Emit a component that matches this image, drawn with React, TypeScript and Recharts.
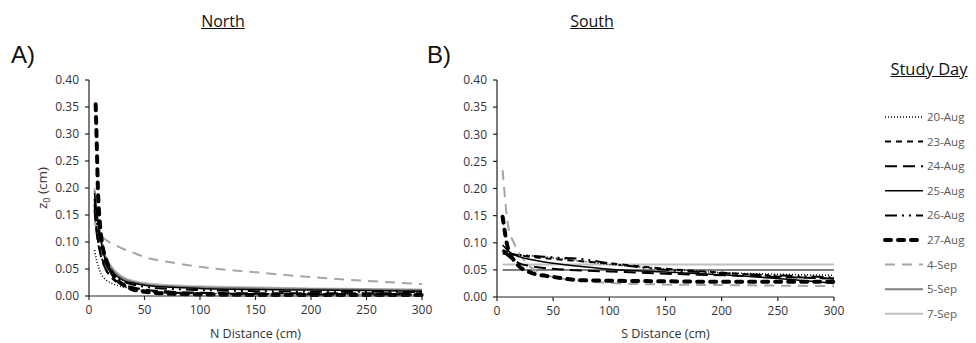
import React from "react";
import { LineChart, Line, XAxis, YAxis } from "recharts";

type Pt = { x: number; y: number };
const pts = (xs: number[], ys: number[]): Pt[] => xs.map((x, i) => ({ x, y: ys[i] }));

const xTicks = [0, 50, 100, 150, 200, 250, 300];
const yTicks = [0, 0.05, 0.1, 0.15, 0.2, 0.25, 0.3, 0.35, 0.4];
const days = ["20-Aug", "23-Aug", "24-Aug", "25-Aug", "26-Aug", "27-Aug", "4-Sep", "5-Sep", "7-Sep"];

// North panel
const nX = [5, 7, 10, 15, 20, 30, 40, 50, 75, 100, 150, 200, 250, 300];
const n20Aug = [0.085, 0.065, 0.045, 0.03, 0.024, 0.017, 0.013, 0.01, 0.007, 0.005, 0.004, 0.004, 0.003, 0.003];
const n23Aug = [0.17, 0.12, 0.085, 0.05, 0.035, 0.02, 0.014, 0.01, 0.006, 0.005, 0.004, 0.003, 0.003, 0.003];
const n24Aug = [0.16, 0.115, 0.08, 0.05, 0.036, 0.022, 0.016, 0.012, 0.008, 0.006, 0.005, 0.005, 0.005, 0.005];
const n25Aug = [0.19, 0.15, 0.11, 0.065, 0.048, 0.03, 0.024, 0.02, 0.016, 0.014, 0.012, 0.011, 0.01, 0.009];
const n26Aug = [0.18, 0.14, 0.1, 0.06, 0.044, 0.028, 0.021, 0.017, 0.013, 0.011, 0.009, 0.008, 0.008, 0.007];
const n27X = [6, 7, 8, 10, 12, 15, 20, 25, 30, 40, 50, 75, 100, 150, 200, 250, 300];
const n27Aug = [0.355, 0.28, 0.2, 0.13, 0.095, 0.07, 0.045, 0.03, 0.022, 0.012, 0.008, 0.004, 0.003, 0.002, 0.002, 0.002, 0.002];
const n4Sep = [0.137, 0.125, 0.115, 0.104, 0.098, 0.088, 0.08, 0.072, 0.062, 0.054, 0.044, 0.035, 0.028, 0.022];
const n5Sep = [0.195, 0.155, 0.115, 0.07, 0.052, 0.033, 0.026, 0.022, 0.018, 0.016, 0.014, 0.013, 0.012, 0.011];
const n7Sep = [0.2, 0.16, 0.12, 0.074, 0.055, 0.036, 0.028, 0.024, 0.02, 0.018, 0.016, 0.014, 0.013, 0.012];

// South panel
const sX = [5, 10, 15, 20, 30, 50, 75, 100, 150, 200, 250, 300];
const s20Aug = [0.085, 0.08, 0.078, 0.077, 0.076, 0.072, 0.066, 0.06, 0.052, 0.045, 0.042, 0.04];
const s23Aug = [0.087, 0.082, 0.079, 0.077, 0.074, 0.07, 0.066, 0.062, 0.052, 0.045, 0.038, 0.034];
const s24Aug = [0.085, 0.075, 0.068, 0.062, 0.057, 0.052, 0.049, 0.047, 0.043, 0.04, 0.037, 0.034];
const s25Aug = [0.096, 0.085, 0.078, 0.074, 0.069, 0.062, 0.056, 0.051, 0.046, 0.041, 0.034, 0.025];
const s26Aug = [0.08, 0.079, 0.078, 0.077, 0.076, 0.073, 0.07, 0.062, 0.05, 0.044, 0.04, 0.036];
const s27Aug = [0.148, 0.087, 0.068, 0.056, 0.045, 0.037, 0.031, 0.03, 0.029, 0.028, 0.028, 0.028];
const s4Sep = [0.234, 0.13, 0.1, 0.08, 0.055, 0.037, 0.03, 0.026, 0.023, 0.022, 0.021, 0.02];
const sFlatX = [5, 300];
const s5Sep = [0.05, 0.05];
const s7Sep = [0.06, 0.06];

type Style = { stroke: string; strokeWidth: number; dash?: string; cap?: "round" | "butt" };
const styles: Style[] = [
  { stroke: "#000", strokeWidth: 1.5, dash: "1 2" },
  { stroke: "#000", strokeWidth: 2, dash: "6 5" },
  { stroke: "#000", strokeWidth: 2, dash: "12 6" },
  { stroke: "#000", strokeWidth: 1.5 },
  { stroke: "#000", strokeWidth: 2, dash: "12 5 2 5 2 5" },
  { stroke: "#000", strokeWidth: 4, dash: "6 7", cap: "round" },
  { stroke: "#A6A6A6", strokeWidth: 2, dash: "10 7" },
  { stroke: "#7F7F7F", strokeWidth: 2 },
  { stroke: "#BFBFBF", strokeWidth: 2 },
];

const north: Pt[][] = [
  pts(nX, n20Aug), pts(nX, n23Aug), pts(nX, n24Aug), pts(nX, n25Aug), pts(nX, n26Aug),
  pts(n27X, n27Aug), pts(nX, n4Sep), pts(nX, n5Sep), pts(nX, n7Sep),
];
const south: Pt[][] = [
  pts(sX, s20Aug), pts(sX, s23Aug), pts(sX, s24Aug), pts(sX, s25Aug), pts(sX, s26Aug),
  pts(sX, s27Aug), pts(sX, s4Sep), pts(sFlatX, s5Sep), pts(sFlatX, s7Sep),
];
// draw order: grays first, 27-Aug on top
const order = [8, 7, 6, 0, 1, 2, 3, 4, 5];

const font = "'Open Sans', sans-serif";
const tickStyle = { fontSize: 12, fill: "#333", fontFamily: font };
const axisLine = { stroke: "#222", strokeWidth: 1.2 };

function Panel({ series, xLabel, w, left, right, axisH }: { series: Pt[][]; xLabel: string; w: number; left: number; right: number; axisH: number }) {
  return (
    <LineChart width={w} height={343} margin={{ top: 80, right, bottom: 0, left }}>
      <XAxis
        type="number"
        dataKey="x"
        domain={[0, 300]}
        ticks={xTicks}
        tick={tickStyle}
        tickSize={4}
        tickMargin={5}
        axisLine={axisLine}
        tickLine={axisLine}
        height={axisH}
        label={{ value: xLabel, position: "insideBottom", offset: 5, style: { fontSize: 12.5, fill: "#333", fontFamily: font } }}
        allowDuplicatedCategory={false}
      />
      <YAxis
        type="number"
        dataKey="y"
        domain={[0, 0.4]}
        ticks={yTicks}
        tickFormatter={(v: number) => v.toFixed(2)}
        tick={tickStyle}
        tickSize={4}
        tickMargin={6}
        axisLine={axisLine}
        tickLine={axisLine}
        width={39}
      />
      {order.map((i) => {
        const s = styles[i];
        return (
          <Line
            key={days[i]}
            data={series[i]}
            dataKey="y"
            type="monotone"
            stroke={s.stroke}
            strokeWidth={s.strokeWidth}
            strokeDasharray={s.dash}
            strokeLinecap={s.cap ?? "butt"}
            dot={false}
            activeDot={false}
            isAnimationActive={false}
          />
        );
      })}
    </LineChart>
  );
}

export default function App() {
  const title = { position: "absolute" as const, fontFamily: font, fontSize: 16, textDecoration: "underline", color: "#111", transform: "translateX(-50%)", whiteSpace: "nowrap" as const };
  const tag = { position: "absolute" as const, fontFamily: "'Liberation Sans', Arial, sans-serif", fontSize: 24, color: "#111" };
  return (
    <div style={{ position: "absolute", left: 0, top: 0, width: 976, height: 343, background: "#fff", overflow: "hidden" }}>
      <div style={{ ...title, left: 223, top: 10 }}>North</div>
      <div style={{ ...title, left: 592, top: 10 }}>South</div>
      <div style={{ ...tag, left: 11, top: 41 }}>A)</div>
      <div style={{ ...tag, left: 427, top: 41 }}>B)</div>
      <div
        style={{
          position: "absolute", left: 43, top: 188, transform: "translate(-50%, -50%) rotate(-90deg)",
          fontFamily: font, fontSize: 13.5, color: "#333", whiteSpace: "nowrap",
        }}
      >
        z<sub style={{ fontSize: 9 }}>0</sub> (cm)
      </div>
      <div style={{ position: "absolute", left: 0, top: 0 }}>
        <Panel series={north} xLabel="N Distance (cm)" w={440} left={50} right={18} axisH={47} />
      </div>
      <div style={{ position: "absolute", left: 440, top: 0 }}>
        <Panel series={south} xLabel="S Distance (cm)" w={420} left={18} right={26} axisH={46} />
      </div>
      <div style={{ ...title, left: 929, top: 57, fontSize: 16.5 }}>Study Day</div>
      <svg style={{ position: "absolute", left: 880, top: 100 }} width={96} height={230}>
        {days.map((d, i) => {
          const s = styles[i];
          const y = 17 + i * 24.6;
          return (
            <g key={d}>
              <line x1={5} x2={43} y1={y} y2={y} stroke={s.stroke} strokeWidth={s.strokeWidth} strokeDasharray={s.dash} strokeLinecap={s.cap ?? "butt"} />
              <text x={47} y={y + 4} fontSize={11.5} fill="#595959" fontFamily={font}>{d}</text>
            </g>
          );
        })}
      </svg>
    </div>
  );
}
